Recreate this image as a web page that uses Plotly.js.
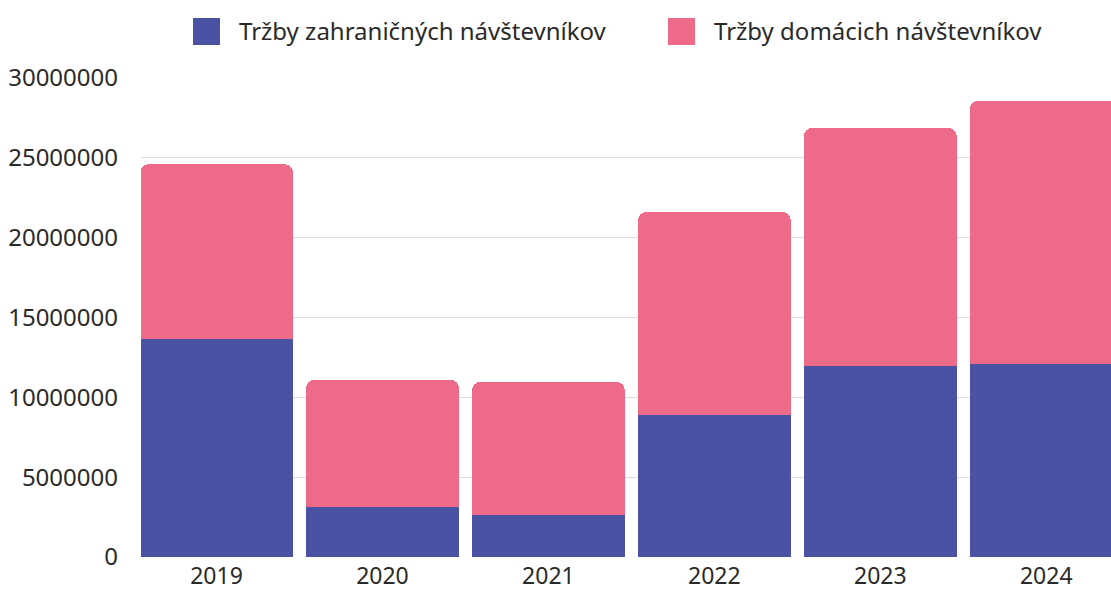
<!DOCTYPE html>
<html>
<head>
<meta charset="utf-8">
<script src="https://cdn.plot.ly/plotly-3.0.1.min.js"></script>
<style>
  html, body { margin: 0; padding: 0; background: #fff; }
  #chart { width: 1111px; height: 592px; }
</style>
</head>
<body>
<div id="chart"></div>
<script>
// Chart data
const years = ['2019', '2020', '2021', '2022', '2023', '2024'];
const foreignRevenue = [13650000, 3130000, 2630000, 8890000, 11960000, 12090000];
const domesticRevenue = [10950000, 7960000, 8330000, 12710000, 14910000, 16470000];
const seriesNames = ['Tržby zahraničných návštevníkov', 'Tržby domácich návštevníkov'];
const yTicks = [0, 5000000, 10000000, 15000000, 20000000, 25000000, 30000000];

const colors = {
    foreign: '#4b51a3',
    domestic: '#ee6a89'
};

const fontFamily = '"Noto Sans", "Open Sans", sans-serif';
const textColor = '#2a2a2a';

// Plot area in pixels, used to place the hand-drawn legend
const plotBox = { left: 141, top: 78, width: 970, height: 479 };
const px = x => (x - plotBox.left) / plotBox.width;
const py = y => (plotBox.top + plotBox.height - y) / plotBox.height;

const plotData = [
    {
        x: years,
        y: foreignRevenue,
        type: 'bar',
        name: seriesNames[0],
        marker: { color: colors.foreign },
        hoverinfo: 'x+y+name'
    },
    {
        x: years,
        y: domesticRevenue,
        type: 'bar',
        name: seriesNames[1],
        marker: { color: colors.domestic },
        hoverinfo: 'x+y+name'
    }
];

// Legend drawn as shapes + annotations so the swatches can be large
function legendItem(color, label, boxLeft, textLeft) {
    return {
        shape: {
            type: 'rect', xref: 'paper', yref: 'paper',
            x0: px(boxLeft), x1: px(boxLeft + 27),
            y0: py(45), y1: py(18),
            fillcolor: color, line: { width: 0 }
        },
        annotation: {
            xref: 'paper', yref: 'paper',
            x: px(textLeft), y: py(31),
            xanchor: 'left', yanchor: 'middle',
            text: label, showarrow: false,
            font: { size: 24, color: textColor, family: fontFamily }
        }
    };
}

const legendItems = [
    legendItem(colors.foreign, seriesNames[0], 193, 237),
    legendItem(colors.domestic, seriesNames[1], 668, 712)
];

const layout = {
    width: 1111,
    height: 592,
    barmode: 'stack',
    bargap: 0.08,
    barcornerradius: 8,
    showlegend: false,
    plot_bgcolor: 'white',
    paper_bgcolor: 'white',
    font: { family: fontFamily, size: 24, color: textColor },
    margin: { t: plotBox.top, r: 1111 - plotBox.left - plotBox.width, b: 592 - plotBox.top - plotBox.height, l: plotBox.left },
    xaxis: {
        type: 'category',
        range: [-0.455, 5.39],
        showgrid: false,
        zeroline: false,
        showline: false,
        ticks: '',
        ticklabelstandoff: 3,
        tickfont: { size: 23, color: textColor }
    },
    yaxis: {
        range: [0, 30000000],
        tickvals: yTicks,
        ticktext: yTicks.map(v => String(v)),
        gridcolor: '#dddddd',
        gridwidth: 1,
        zeroline: false,
        showline: false,
        ticks: '',
        ticklabelstandoff: 22,
        tickfont: { size: 24, color: textColor }
    },
    shapes: legendItems.map(d => d.shape),
    annotations: legendItems.map(d => d.annotation)
};

Plotly.newPlot('chart', plotData, layout, { displayModeBar: false, staticPlot: true });
</script>
</body>
</html>
